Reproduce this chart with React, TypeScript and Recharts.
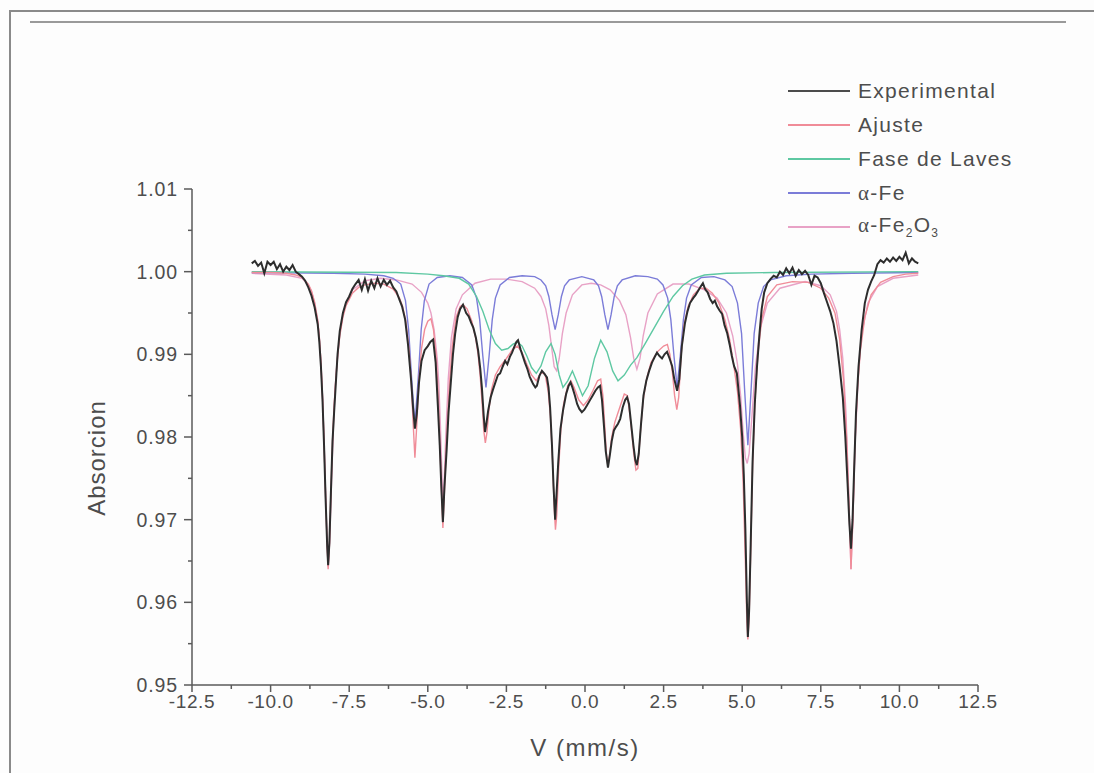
import React from 'react';
import { LineChart, Line, XAxis, YAxis } from 'recharts';

// tick values (mm/s and absorcion)
const xMajor = [-12.5, -10, -7.5, -5, -2.5, 0, 2.5, 5, 7.5, 10, 12.5];
const xMinor = [-11.25, -8.75, -6.25, -3.75, -1.25, 1.25, 3.75, 6.25, 8.75, 11.25];
const yMajor = [0.95, 0.96, 0.97, 0.98, 0.99, 1.0, 1.01];
const yMinor = [0.955, 0.965, 0.975, 0.985, 0.995, 1.005];

const seriesNames = ['Experimental', 'Ajuste', 'Fase de Laves', 'α-Fe', 'α-Fe2O3'];

// [velocity, absorcion]
const experimental: [number, number][] = [
  [-10.6, 1.001], [-10.5, 1.0013], [-10.4, 1.0007], [-10.3, 1.0011], [-10.2, 0.9998], [-10.1, 1.0012],
  [-10.0, 1.0008], [-9.9, 1.0012], [-9.8, 1.0003], [-9.7, 1.0009], [-9.6, 1.0], [-9.5, 1.0006],
  [-9.4, 1.0002], [-9.3, 1.0008], [-9.2, 1.0], [-9.1, 0.9997], [-9.0, 0.9994], [-8.9, 0.9989],
  [-8.8, 0.9981], [-8.7, 0.9971], [-8.6, 0.9957], [-8.5, 0.9936], [-8.45, 0.9915], [-8.4, 0.9886],
  [-8.35, 0.9846], [-8.3, 0.979], [-8.25, 0.9725], [-8.2, 0.9668], [-8.17, 0.9645], [-8.13, 0.9672],
  [-8.08, 0.9735], [-8.03, 0.9795], [-7.98, 0.983], [-7.93, 0.9862], [-7.87, 0.99], [-7.8, 0.9928],
  [-7.7, 0.995], [-7.6, 0.9963], [-7.5, 0.997], [-7.4, 0.9979], [-7.3, 0.9985], [-7.2, 0.999],
  [-7.1, 0.9978], [-7.0, 0.9991], [-6.9, 0.9977], [-6.8, 0.9989], [-6.7, 0.998], [-6.6, 0.9992],
  [-6.5, 0.9982], [-6.4, 0.999], [-6.3, 0.9984], [-6.2, 0.9989], [-6.1, 0.9981], [-6.0, 0.9976],
  [-5.9, 0.9966], [-5.82, 0.9958], [-5.72, 0.9942], [-5.63, 0.9912], [-5.53, 0.9868], [-5.47, 0.9836],
  [-5.41, 0.981], [-5.35, 0.9828], [-5.28, 0.9866], [-5.2, 0.9892], [-5.1, 0.9905], [-5.0, 0.991],
  [-4.92, 0.9915], [-4.83, 0.9918], [-4.75, 0.989], [-4.68, 0.9838], [-4.62, 0.979], [-4.57, 0.974],
  [-4.52, 0.9697], [-4.47, 0.974], [-4.4, 0.9785], [-4.34, 0.983], [-4.28, 0.986], [-4.2, 0.99],
  [-4.13, 0.9925], [-4.05, 0.9945], [-3.97, 0.9955], [-3.88, 0.996], [-3.78, 0.995], [-3.7, 0.9946],
  [-3.62, 0.9938], [-3.55, 0.9932], [-3.47, 0.992], [-3.4, 0.9905], [-3.33, 0.9882], [-3.28, 0.986],
  [-3.22, 0.9825], [-3.18, 0.9806], [-3.13, 0.9818], [-3.08, 0.9832], [-3.0, 0.9848], [-2.93, 0.9857],
  [-2.85, 0.9866], [-2.77, 0.9875], [-2.7, 0.9877], [-2.62, 0.9885], [-2.54, 0.9892], [-2.47, 0.9888],
  [-2.39, 0.9897], [-2.32, 0.9902], [-2.25, 0.9909], [-2.18, 0.9915], [-2.13, 0.9917], [-2.05, 0.9906],
  [-1.98, 0.9898], [-1.91, 0.989], [-1.83, 0.9882], [-1.76, 0.9873], [-1.7, 0.9868], [-1.65, 0.9864],
  [-1.58, 0.986], [-1.53, 0.9862], [-1.45, 0.9874], [-1.37, 0.988], [-1.3, 0.9877], [-1.21, 0.9872],
  [-1.16, 0.986], [-1.11, 0.9836], [-1.05, 0.979], [-1.0, 0.974], [-0.95, 0.97], [-0.9, 0.9735],
  [-0.85, 0.977], [-0.78, 0.981], [-0.7, 0.9832], [-0.6, 0.9852], [-0.52, 0.9862], [-0.46, 0.9866],
  [-0.4, 0.986], [-0.32, 0.985], [-0.25, 0.984], [-0.18, 0.9834], [-0.1, 0.983], [-0.02, 0.9833],
  [0.06, 0.9838], [0.15, 0.9844], [0.24, 0.985], [0.33, 0.9856], [0.41, 0.986], [0.48, 0.9862],
  [0.54, 0.9845], [0.6, 0.9815], [0.66, 0.9783], [0.73, 0.9763], [0.79, 0.9778], [0.85, 0.9795],
  [0.92, 0.9808], [0.98, 0.9812], [1.05, 0.9816], [1.12, 0.9822], [1.2, 0.9836], [1.28, 0.9845],
  [1.34, 0.9848], [1.4, 0.984], [1.47, 0.9815], [1.54, 0.979], [1.6, 0.9772], [1.65, 0.9766],
  [1.71, 0.978], [1.78, 0.9815], [1.86, 0.985], [1.95, 0.9868], [2.04, 0.988], [2.13, 0.989],
  [2.22, 0.9897], [2.29, 0.9902], [2.37, 0.9898], [2.45, 0.9895], [2.53, 0.99], [2.61, 0.9903],
  [2.69, 0.9895], [2.77, 0.9886], [2.84, 0.987], [2.93, 0.9856], [3.0, 0.987], [3.08, 0.991],
  [3.18, 0.9938], [3.26, 0.9952], [3.34, 0.9962], [3.44, 0.9968], [3.52, 0.9972], [3.6, 0.9977],
  [3.68, 0.9982], [3.75, 0.9986], [3.82, 0.9979], [3.9, 0.9975], [3.98, 0.9967], [4.06, 0.9962],
  [4.13, 0.9965], [4.2, 0.9958], [4.28, 0.9953], [4.36, 0.9949], [4.44, 0.9935], [4.52, 0.9926],
  [4.6, 0.9912], [4.67, 0.9898], [4.74, 0.9886], [4.83, 0.9877], [4.93, 0.9838], [5.0, 0.98],
  [5.05, 0.9755], [5.1, 0.969], [5.15, 0.96], [5.18, 0.9558], [5.22, 0.959], [5.27, 0.967],
  [5.33, 0.977], [5.4, 0.984], [5.47, 0.9885], [5.55, 0.9925], [5.62, 0.9955], [5.7, 0.9975],
  [5.8, 0.9986], [5.9, 0.9991], [6.0, 0.9995], [6.1, 0.9993], [6.2, 1.0], [6.3, 0.9996],
  [6.4, 1.0004], [6.5, 0.9998], [6.6, 1.0005], [6.7, 0.9995], [6.8, 1.0002], [6.9, 0.9997],
  [7.0, 1.0001], [7.1, 0.9996], [7.2, 0.9984], [7.3, 0.9995], [7.4, 0.9993], [7.5, 0.9986],
  [7.6, 0.9974], [7.7, 0.9963], [7.8, 0.9952], [7.9, 0.9938], [8.0, 0.9916], [8.1, 0.9884],
  [8.2, 0.9848], [8.28, 0.98], [8.35, 0.9745], [8.41, 0.9695], [8.46, 0.9665], [8.51, 0.97],
  [8.56, 0.976], [8.62, 0.983], [8.7, 0.9885], [8.8, 0.993], [8.9, 0.9962], [9.0, 0.9978],
  [9.1, 0.9988], [9.2, 0.9996], [9.3, 1.0009], [9.4, 1.0014], [9.5, 1.0011], [9.6, 1.0016],
  [9.7, 1.0012], [9.8, 1.0017], [9.9, 1.0013], [10.0, 1.0018], [10.1, 1.0014], [10.2, 1.0023],
  [10.3, 1.001], [10.4, 1.0016], [10.5, 1.0012], [10.6, 1.001],
];

const ajuste: [number, number][] = [
  [-10.6, 0.9999], [-10.0, 0.9999], [-9.5, 0.9998], [-9.2, 0.9996], [-9.0, 0.9993], [-8.8, 0.9985],
  [-8.7, 0.9977], [-8.6, 0.9963], [-8.5, 0.9941], [-8.45, 0.9921], [-8.4, 0.9892], [-8.35, 0.985],
  [-8.3, 0.9795], [-8.25, 0.9728], [-8.2, 0.9668], [-8.17, 0.964], [-8.13, 0.9668], [-8.08, 0.9735],
  [-8.03, 0.9795], [-7.98, 0.9838], [-7.93, 0.9868], [-7.87, 0.9897], [-7.8, 0.9922], [-7.7, 0.9945],
  [-7.6, 0.9959], [-7.4, 0.9974], [-7.2, 0.9981], [-7.0, 0.9984], [-6.7, 0.9986], [-6.4, 0.9985],
  [-6.1, 0.9979], [-5.9, 0.9968], [-5.8, 0.9958], [-5.7, 0.994], [-5.6, 0.9908], [-5.53, 0.987],
  [-5.47, 0.982], [-5.41, 0.9775], [-5.35, 0.9815], [-5.28, 0.987], [-5.2, 0.9907], [-5.1, 0.993],
  [-5.0, 0.994], [-4.9, 0.9943], [-4.82, 0.993], [-4.74, 0.99], [-4.68, 0.986], [-4.62, 0.98],
  [-4.57, 0.974], [-4.52, 0.969], [-4.47, 0.9735], [-4.4, 0.98], [-4.32, 0.986], [-4.22, 0.991],
  [-4.1, 0.9945], [-3.97, 0.9958], [-3.88, 0.996], [-3.75, 0.9955], [-3.6, 0.994], [-3.48, 0.992],
  [-3.4, 0.99], [-3.33, 0.9872], [-3.27, 0.984], [-3.22, 0.9808], [-3.17, 0.9793], [-3.12, 0.9805],
  [-3.05, 0.9835], [-2.97, 0.9858], [-2.85, 0.9875], [-2.7, 0.9885], [-2.5, 0.9895], [-2.3, 0.9906],
  [-2.15, 0.991], [-2.0, 0.9902], [-1.85, 0.9888], [-1.7, 0.9875], [-1.55, 0.9868], [-1.4, 0.9878],
  [-1.27, 0.9876], [-1.17, 0.9855], [-1.1, 0.9825], [-1.03, 0.977], [-0.98, 0.9715], [-0.94, 0.9688],
  [-0.9, 0.9705], [-0.84, 0.976], [-0.77, 0.9808], [-0.68, 0.984], [-0.55, 0.9862], [-0.45, 0.9868],
  [-0.35, 0.986], [-0.2, 0.9845], [-0.05, 0.9838], [0.1, 0.9845], [0.25, 0.9856], [0.4, 0.9868],
  [0.5, 0.987], [0.57, 0.985], [0.63, 0.9812], [0.68, 0.978], [0.73, 0.9765], [0.78, 0.9778],
  [0.85, 0.98], [0.95, 0.9818], [1.1, 0.9835], [1.25, 0.9852], [1.35, 0.985], [1.45, 0.982],
  [1.55, 0.978], [1.62, 0.976], [1.68, 0.9762], [1.76, 0.9805], [1.85, 0.9845], [1.97, 0.9872],
  [2.1, 0.989], [2.3, 0.9903], [2.5, 0.991], [2.62, 0.9912], [2.7, 0.99], [2.78, 0.9878],
  [2.85, 0.985], [2.92, 0.9833], [2.98, 0.9848], [3.06, 0.99], [3.15, 0.9935], [3.28, 0.9958],
  [3.45, 0.9972], [3.65, 0.998], [3.85, 0.998], [4.05, 0.9974], [4.25, 0.9963], [4.45, 0.9942],
  [4.6, 0.9918], [4.72, 0.989], [4.85, 0.9855], [4.95, 0.981], [5.03, 0.9745], [5.1, 0.965],
  [5.15, 0.9575], [5.18, 0.9555], [5.22, 0.958], [5.27, 0.966], [5.33, 0.9765], [5.4, 0.984],
  [5.5, 0.99], [5.62, 0.9942], [5.8, 0.997], [6.1, 0.9984], [6.6, 0.9988], [7.1, 0.9987],
  [7.5, 0.998], [7.75, 0.9968], [7.95, 0.995], [8.1, 0.9918], [8.22, 0.987], [8.32, 0.98],
  [8.4, 0.9715], [8.46, 0.964], [8.52, 0.97], [8.58, 0.9785], [8.66, 0.9855], [8.76, 0.9905],
  [8.9, 0.9945], [9.1, 0.9972], [9.4, 0.9987], [9.8, 0.9994], [10.2, 0.9997], [10.6, 0.9998],
];

const faseLaves: [number, number][] = [
  [-10.6, 1.0], [-6.0, 0.9999], [-5.0, 0.9997], [-4.5, 0.9995], [-4.0, 0.9992], [-3.7, 0.9985],
  [-3.45, 0.997], [-3.25, 0.9952], [-3.05, 0.993], [-2.85, 0.9913], [-2.65, 0.9905], [-2.45, 0.9907],
  [-2.3, 0.9912], [-2.15, 0.9915], [-2.0, 0.991], [-1.85, 0.9898], [-1.7, 0.9884], [-1.55, 0.9877],
  [-1.4, 0.9886], [-1.25, 0.9903], [-1.08, 0.9913], [-0.95, 0.99], [-0.82, 0.9875], [-0.7, 0.986],
  [-0.55, 0.9868], [-0.4, 0.988], [-0.25, 0.9866], [-0.08, 0.985], [0.1, 0.9862], [0.3, 0.9895],
  [0.5, 0.9917], [0.7, 0.9903], [0.88, 0.988], [1.05, 0.9868], [1.25, 0.9875], [1.45, 0.9887],
  [1.65, 0.9896], [1.9, 0.9912], [2.2, 0.9932], [2.5, 0.9952], [2.8, 0.997], [3.1, 0.9983],
  [3.4, 0.9991], [3.8, 0.9996], [4.5, 0.9998], [6.0, 0.9999], [10.6, 1.0],
];

const alphaFe: [number, number][] = [
  [-10.6, 0.9999], [-8.0, 0.9998], [-7.0, 0.9997], [-6.4, 0.9995], [-6.1, 0.9992], [-5.86, 0.9985],
  [-5.71, 0.9965], [-5.61, 0.993], [-5.51, 0.9868], [-5.41, 0.9815], [-5.31, 0.9868], [-5.21, 0.993],
  [-5.11, 0.9965], [-4.96, 0.9985], [-4.7, 0.9993], [-4.3, 0.9995], [-3.9, 0.9993], [-3.6, 0.9984],
  [-3.45, 0.9968], [-3.35, 0.9942], [-3.25, 0.9898], [-3.15, 0.986], [-3.05, 0.9898], [-2.95, 0.9942],
  [-2.85, 0.9968], [-2.7, 0.9984], [-2.4, 0.9993], [-2.0, 0.9995], [-1.6, 0.9994], [-1.4, 0.999],
  [-1.25, 0.9983], [-1.15, 0.997], [-1.05, 0.9948], [-0.95, 0.993], [-0.85, 0.9948], [-0.75, 0.997],
  [-0.65, 0.9983], [-0.5, 0.999], [-0.1, 0.9994], [0.28, 0.999], [0.43, 0.9983], [0.53, 0.997],
  [0.63, 0.9948], [0.73, 0.993], [0.83, 0.9948], [0.93, 0.997], [1.03, 0.9983], [1.18, 0.999],
  [1.6, 0.9995], [2.0, 0.9994], [2.3, 0.9991], [2.48, 0.9984], [2.63, 0.9968], [2.73, 0.9942],
  [2.83, 0.9898], [2.93, 0.986], [3.03, 0.9898], [3.13, 0.9942], [3.23, 0.9968], [3.38, 0.9984],
  [3.7, 0.9993], [4.1, 0.9994], [4.45, 0.999], [4.68, 0.9982], [4.85, 0.9962], [4.98, 0.9925],
  [5.08, 0.9855], [5.18, 0.979], [5.28, 0.9855], [5.38, 0.9925], [5.51, 0.9962], [5.68, 0.9982],
  [5.9, 0.999], [6.4, 0.9995], [7.2, 0.9997], [8.5, 0.9998], [10.6, 0.9999],
];

const hematite: [number, number][] = [
  [-10.6, 0.9998], [-9.5, 0.9996], [-9.0, 0.9992], [-8.8, 0.9984], [-8.7, 0.9976], [-8.6, 0.9962],
  [-8.5, 0.994], [-8.45, 0.992], [-8.4, 0.989], [-8.35, 0.985], [-8.3, 0.9795], [-8.25, 0.973],
  [-8.2, 0.967], [-8.17, 0.9643], [-8.12, 0.9675], [-8.05, 0.976], [-8.0, 0.9815], [-7.95, 0.9855],
  [-7.9, 0.9885], [-7.8, 0.9925], [-7.7, 0.9948], [-7.6, 0.9962], [-7.4, 0.9978], [-7.0, 0.9989],
  [-6.5, 0.9992], [-6.0, 0.999], [-5.5, 0.9985], [-5.2, 0.9975], [-5.0, 0.9962], [-4.9, 0.995],
  [-4.8, 0.993], [-4.7, 0.9895], [-4.65, 0.9865], [-4.6, 0.9815], [-4.55, 0.9755], [-4.52, 0.972],
  [-4.48, 0.9745], [-4.43, 0.98], [-4.35, 0.987], [-4.25, 0.992], [-4.1, 0.9955], [-3.9, 0.9972],
  [-3.5, 0.9986], [-3.0, 0.9991], [-2.5, 0.9991], [-2.0, 0.9988], [-1.6, 0.998], [-1.4, 0.997],
  [-1.25, 0.9955], [-1.15, 0.9935], [-1.05, 0.9905], [-0.98, 0.9885], [-0.9, 0.988], [-0.82, 0.9895],
  [-0.72, 0.9925], [-0.6, 0.995], [-0.4, 0.9972], [-0.1, 0.9984], [0.2, 0.9986], [0.5, 0.9984],
  [0.8, 0.9978], [1.1, 0.9965], [1.3, 0.9948], [1.45, 0.992], [1.55, 0.9895], [1.65, 0.9882],
  [1.75, 0.9895], [1.85, 0.9922], [2.0, 0.995], [2.3, 0.9973], [2.8, 0.9985], [3.3, 0.9985],
  [3.8, 0.9978], [4.2, 0.9968], [4.5, 0.995], [4.7, 0.9922], [4.85, 0.9888], [4.95, 0.985],
  [5.03, 0.9805], [5.1, 0.9775], [5.16, 0.9768], [5.22, 0.978], [5.3, 0.982], [5.42, 0.9885],
  [5.58, 0.9932], [5.8, 0.9962], [6.2, 0.998], [7.0, 0.9988], [7.5, 0.9983], [7.8, 0.9972],
  [8.0, 0.9952], [8.1, 0.993], [8.2, 0.9895], [8.3, 0.983], [8.38, 0.974], [8.46, 0.964],
  [8.52, 0.97], [8.6, 0.98], [8.7, 0.988], [8.8, 0.9925], [9.0, 0.9962], [9.3, 0.9982],
  [9.8, 0.9992], [10.6, 0.9996],
];

const colors = ['#2d2d2d', '#f08c98', '#5ec8a2', '#7b7cd8', '#e8a2c6'];
const axisColor = '#5a5a5a';
const textColor = '#4d4d4d';
const font = '"Liberation Sans", Arial, sans-serif';

const toRows = (pts: [number, number][]) => pts.map(([v, a]) => ({ v, a }));

function XTick(props: any) {
  const { x, y, payload } = props;
  const major = xMajor.includes(payload.value);
  return (
    <g>
      <line x1={x} x2={x} y1={y} y2={y + (major ? 7 : 4)} stroke={axisColor} strokeWidth={1.5} />
      {major && (
        <text x={x} y={y + 23} textAnchor="middle" fill={textColor} fontSize={19}
          fontFamily={font} letterSpacing={0.6}>
          {payload.value.toFixed(1)}
        </text>
      )}
    </g>
  );
}

function YTick(props: any) {
  const { x, y, payload } = props;
  const major = yMajor.includes(payload.value);
  return (
    <g>
      <line x1={x - (major ? 8 : 4)} x2={x} y1={y} y2={y} stroke={axisColor} strokeWidth={1.5} />
      {major && (
        <text x={x - 14} y={y + 7} textAnchor="end" fill={textColor} fontSize={19.5}
          fontFamily={font} letterSpacing={0.9}>
          {payload.value.toFixed(2)}
        </text>
      )}
    </g>
  );
}

function LegendBox() {
  const rows = [0, 1, 2, 3, 4];
  return (
    <div style={{ position: 'absolute', left: 788, top: 74, fontFamily: font, fontSize: 21,
      color: textColor, letterSpacing: 1.3 }}>
      {rows.map((i) => (
        <div key={i} style={{ display: 'flex', alignItems: 'center', height: 34 }}>
          <div style={{ width: 62, height: 2, background: colors[i], opacity: i === 0 ? 0.85 : 1, marginRight: 8 }} />
          {i < 3 ? (
            <span>{seriesNames[i]}</span>
          ) : i === 3 ? (
            <span><span style={{ fontFamily: '"Liberation Serif", serif' }}>α</span>-Fe</span>
          ) : (
            <span>
              <span style={{ fontFamily: '"Liberation Serif", serif' }}>α</span>-Fe
              <sub style={{ fontSize: 12 }}>2</sub>O<sub style={{ fontSize: 12 }}>3</sub>
            </span>
          )}
        </div>
      ))}
    </div>
  );
}

export default function App() {
  const xTicks = [...xMajor, ...xMinor].sort((a, b) => a - b);
  const yTicks = [...yMajor, ...yMinor].sort((a, b) => a - b);
  const series = [hematite, alphaFe, faseLaves, ajuste, experimental];
  const order = [4, 3, 2, 1, 0];

  return (
    <div style={{ position: 'absolute', left: 0, top: 0, width: 1094, height: 773, background: '#fdfdfd', overflow: 'hidden' }}>
      {/* scanned page frame */}
      <div style={{ position: 'absolute', left: 9, top: 10, width: 1085, height: 0, borderTop: '2px solid #8a8a8a' }} />
      <div style={{ position: 'absolute', left: 9, top: 10, width: 0, height: 763, borderLeft: '2px solid #8a8a8a' }} />
      <div style={{ position: 'absolute', left: 30, top: 21, width: 1036, height: 0, borderTop: '2px solid #9a9a9a' }} />

      <LineChart width={1094} height={773} margin={{ top: 189, right: 116, bottom: 28, left: 132 }}>
        <XAxis dataKey="v" type="number" domain={[-12.5, 12.5]} ticks={xTicks} interval={0}
          allowDataOverflow height={60} tickSize={0} tickMargin={0} tick={<XTick />}
          axisLine={{ stroke: axisColor, strokeWidth: 1.5 }} tickLine={false} />
        <YAxis type="number" domain={[0.95, 1.01]} ticks={yTicks} interval={0} allowDataOverflow
          width={60} tickSize={0} tickMargin={0} tick={<YTick />}
          axisLine={{ stroke: axisColor, strokeWidth: 1.5 }} tickLine={false} />
        {series.map((pts, i) => (
          <Line key={seriesNames[order[i]]} data={toRows(pts)} dataKey="a" name={seriesNames[order[i]]}
            type="linear" dot={false} stroke={colors[order[i]]} strokeWidth={order[i] === 0 ? 2 : 1.4}
            isAnimationActive={false} />
        ))}
      </LineChart>

      <div style={{ position: 'absolute', left: 97, top: 458, transform: 'translate(-50%, -50%) rotate(-90deg)',
        fontFamily: font, fontSize: 24, color: textColor, letterSpacing: 1, whiteSpace: 'nowrap' }}>
        Absorcion
      </div>
      <div style={{ position: 'absolute', left: 585, top: 748, transform: 'translate(-50%, -50%)',
        fontFamily: font, fontSize: 24, color: textColor, letterSpacing: 1.5, whiteSpace: 'nowrap' }}>
        V (mm/s)
      </div>
      <LegendBox />
    </div>
  );
}
